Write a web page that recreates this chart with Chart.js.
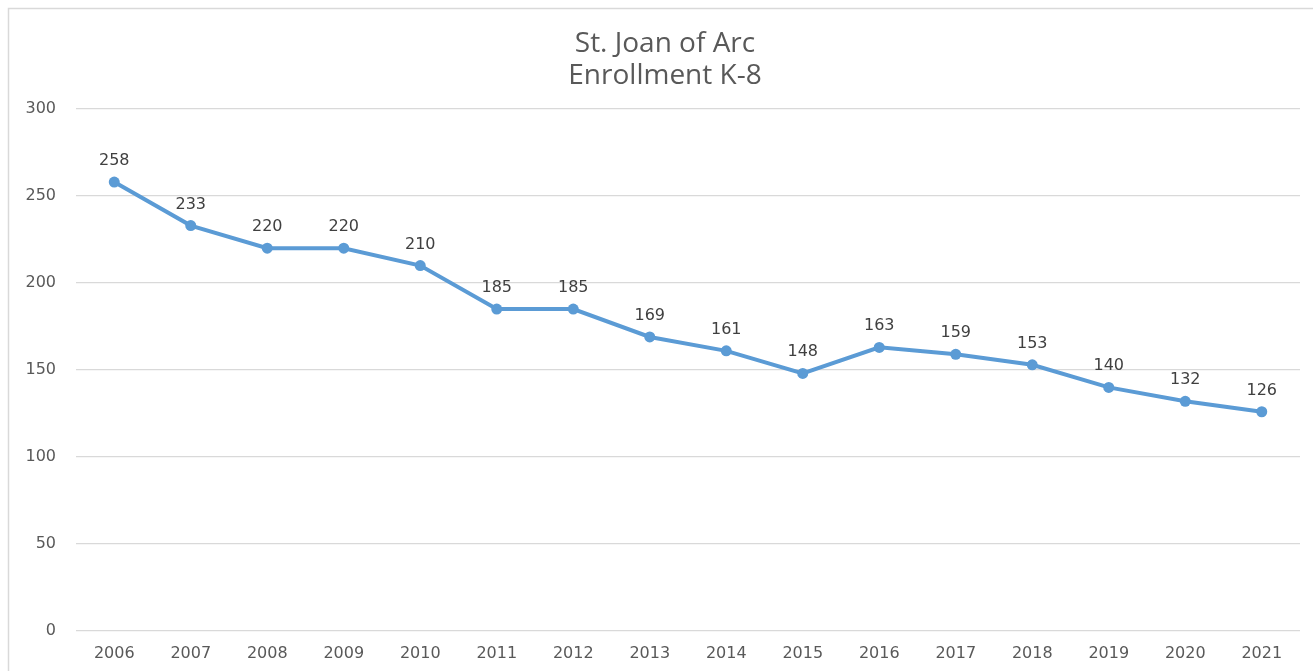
<!DOCTYPE html>
<html>
<head>
<meta charset="utf-8">
<script src="https://cdn.jsdelivr.net/npm/chart.js@4/dist/chart.umd.min.js"></script>
<style>
html,body{margin:0;padding:0;background:#fff;}
#wrap{width:1313px;height:671px;position:relative;}
</style>
</head>
<body>
<div id="wrap"><canvas id="c" width="1313" height="671"></canvas></div>
<script>
const titleLines = ["St. Joan of Arc", "Enrollment K-8"];
const years = ["2006","2007","2008","2009","2010","2011","2012","2013","2014","2015","2016","2017","2018","2019","2020","2021"];
const enrollment = [258,233,220,220,210,185,185,169,161,148,163,159,153,140,132,126];
const yMin = 0, yMax = 300, yStep = 50;

const TICK_FONT = 'DejaVu Sans, sans-serif';

const framePlugin = {
  id: 'frame',
  beforeDraw(chart) {
    const ctx = chart.ctx;
    ctx.save();
    ctx.fillStyle = '#ffffff';
    ctx.fillRect(0, 0, chart.width, chart.height);
    ctx.strokeStyle = '#d9d9d9';
    ctx.lineWidth = 1.5;
    ctx.beginPath();
    ctx.moveTo(8.5, chart.height);
    ctx.lineTo(8.5, 8.5);
    ctx.lineTo(chart.width, 8.5);
    ctx.stroke();
    ctx.fillStyle = '#595959';
    ctx.font = '28px "Open Sans", sans-serif';
    ctx.textAlign = 'center';
    ctx.textBaseline = 'alphabetic';
    ctx.fillText(titleLines[0], 665, 52);
    ctx.fillText(titleLines[1], 665, 84);
    ctx.restore();
  }
};

const labelPlugin = {
  id: 'dataLabels',
  afterDatasetsDraw(chart) {
    const ctx = chart.ctx;
    const meta = chart.getDatasetMeta(0);
    ctx.save();
    ctx.fillStyle = '#404040';
    ctx.font = '16px ' + TICK_FONT;
    ctx.textAlign = 'center';
    ctx.textBaseline = 'alphabetic';
    meta.data.forEach((pt, i) => {
      ctx.fillText(String(chart.data.datasets[0].data[i]), pt.x, pt.y - 17);
    });
    ctx.restore();
  }
};

new Chart(document.getElementById('c'), {
  type: 'line',
  data: {
    labels: years,
    datasets: [{
      data: enrollment,
      borderColor: '#5B9BD5',
      backgroundColor: '#5B9BD5',
      borderWidth: 4,
      pointRadius: 5.5,
      pointBackgroundColor: '#5B9BD5',
      pointBorderColor: '#5B9BD5',
      pointBorderWidth: 0,
      tension: 0,
      fill: false
    }]
  },
  options: {
    responsive: false,
    animation: false,
    devicePixelRatio: 1,
    layout: { padding: { left: 0, right: 13, top: 109, bottom: 0 } },
    plugins: { legend: { display: false }, title: { display: false }, tooltip: { enabled: false } },
    scales: {
      x: {
        offset: true,
        grid: { display: false, drawTicks: false },
        border: { display: false },
        ticks: { color: '#595959', font: { family: TICK_FONT, size: 16 }, padding: 13, maxRotation: 0, autoSkip: false },
        afterFit(scale) { scale.height = 40; }
      },
      y: {
        min: yMin, max: yMax,
        grid: { color: '#d9d9d9', lineWidth: 1.2, drawTicks: false },
        border: { display: false },
        ticks: { stepSize: yStep, color: '#595959', font: { family: TICK_FONT, size: 16 }, padding: 20 },
        afterFit(scale) { scale.width = 76; }
      }
    }
  },
  plugins: [framePlugin, labelPlugin]
});
</script>
</body>
</html>
